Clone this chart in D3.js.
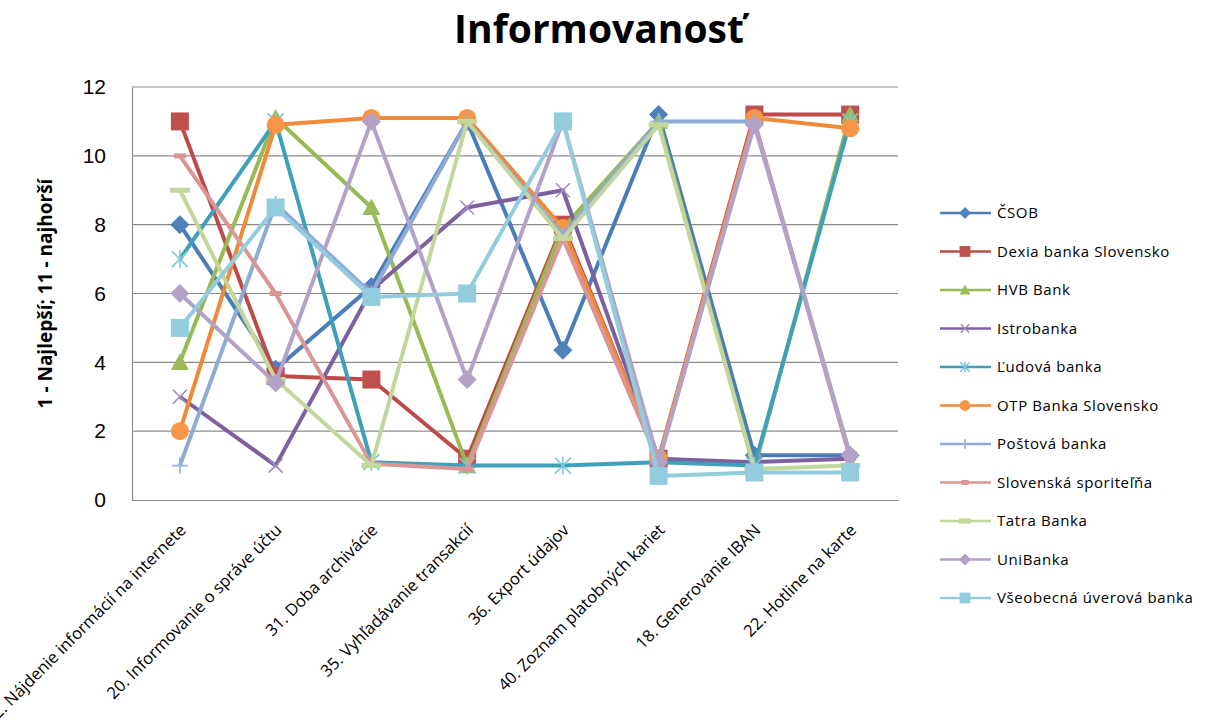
<!DOCTYPE html>
<html><head><meta charset="utf-8">
<script src="https://cdn.jsdelivr.net/npm/d3@7"></script>
<style>body{margin:0;background:#fff}svg{display:block}</style>
</head><body><div id="c"></div>
<script>
const categories = ["2. Nájdenie informácií na internete","20. Informovanie o správe účtu","31. Doba archivácie","35. Vyhľadávanie transakcií","36. Export údajov","40. Zoznam platobných kariet","18. Generovanie IBAN","22. Hotline na karte"];
const seriesNames = ["ČSOB","Dexia banka Slovensko","HVB Bank","Istrobanka","Ľudová banka","OTP Banka Slovensko","Poštová banka","Slovenská sporiteľňa","Tatra Banka","UniBanka","Všeobecná úverová banka"];
const csob      = [8, 3.8, 6.2, 11, 4.35, 11.2, 1.3, 1.3];
const dexia     = [11, 3.6, 3.5, 1.2, 8, 1.2, 11.2, 11.2];
const hvb       = [4, 11.1, 8.5, 1.0, 7.9, 11, 0.9, 11.2];
const istro     = [3, 1.0, 6.1, 8.5, 9, 1.2, 1.1, 1.2];
const ludova    = [7, 11, 1.1, 1.0, 1.0, 1.1, 1.0, 11];
const otp       = [2, 10.9, 11.1, 11.1, 7.9, 1.2, 11.1, 10.8];
const postova   = [1, 8.6, 6.0, 11, 7.7, 11, 11, 1.3];
const slsp      = [10, 6, 1.05, 0.9, 7.6, 1.1, 11, 1.2];
const tatra     = [9, 3.5, 1.0, 11, 7.6, 10.9, 0.9, 1.0];
const uni       = [6, 3.4, 11, 3.5, 11, 1.1, 10.9, 1.3];
const vub       = [5, 8.5, 5.9, 6.0, 11, 0.7, 0.8, 0.8];
const yTicks = [0, 2, 4, 6, 8, 10, 12];
const seriesValues = [csob, dexia, hvb, istro, ludova, otp, postova, slsp, tatra, uni, vub];
const colors = ["#4A7EBB","#BE4B48","#98B954","#7D60A0","#3FA0BA","#F08A3A","#8EAAD6","#D99694","#C3D69B","#B3A2C7","#93CDDD"];
const markerColors = ["#4F81BD","#C0504D","#9BBB59","#A08FC4","#7FC8DA","#F79646","#95B3D7","#D99694","#C3D69B","#B3A2C7","#93CDDD"];
const markers = ["diamond","square","triangle","x","star","circle","plus","dash","longdash","diamond","square"];

const W = 1212, H = 725;
const svg = d3.select("#c").append("svg").attr("width", W).attr("height", H)
  .style("font-family", "'Open Sans', 'Liberation Sans', sans-serif");
const pL = 132, pR = 898, pT = 87, pB = 500;
const x = d3.scaleBand().domain(categories).range([pL, pR]);
const y = d3.scaleLinear().domain([0, 12]).range([pB, pT]);

// title
svg.append("text").attr("x", 599).attr("y", 43).attr("text-anchor", "middle")
  .attr("font-size", 39).attr("font-weight", "bold").attr("fill", "#000").text("Informovanosť");

// grid
svg.append("g").selectAll("line").data(yTicks.filter(d => d > 0)).join("line")
  .attr("x1", pL).attr("x2", pR).attr("y1", d => y(d)).attr("y2", d => y(d))
  .attr("stroke", "#8c8c8c").attr("stroke-width", 1.2);
// axes
const yAxis = svg.append("g").attr("transform", `translate(${pL},0)`)
  .call(d3.axisLeft(y).tickValues(yTicks).tickSize(0).tickPadding(26));
yAxis.select(".domain").attr("stroke", "#8c8c8c").attr("stroke-width", 1.2);
yAxis.selectAll("text").attr("font-size", 21).attr("fill", "#000");
const xAxis = svg.append("g").attr("transform", `translate(0,${pB})`)
  .call(d3.axisBottom(x).tickSize(0).tickFormat(""));
xAxis.select(".domain").attr("stroke", "#8c8c8c").attr("stroke-width", 1.2);
svg.append("g").selectAll("text").data(categories).join("text")
  .attr("transform", d => `translate(${x(d) + x.bandwidth()/2 + 3},${pB + 27}) rotate(-45)`)
  .attr("text-anchor", "end").attr("dy", "0.35em").attr("font-size", 16.5).attr("fill", "#000")
  .text(d => d);

// y label
svg.append("text").attr("transform", `translate(52,${(pT+pB)/2}) rotate(-90)`)
  .attr("text-anchor", "middle").attr("font-size", 19).attr("font-weight", "bold").text("1 - Najlepší; 11 - najhorší");

function drawMarker(g, type, cx, cy, i, scale) {
  const s = scale || 1;
  const c = markerColors[i];
  if (type === "diamond") {
    const r = 9*s;
    g.append("path").attr("d", `M${cx},${cy-r}L${cx+r},${cy}L${cx},${cy+r}L${cx-r},${cy}Z`).attr("fill", c).attr("stroke", colors[i]).attr("stroke-width", 1);
  } else if (type === "square") {
    const r = 9*s;
    g.append("rect").attr("x", cx-r).attr("y", cy-r).attr("width", 2*r).attr("height", 2*r).attr("fill", c);
  } else if (type === "triangle") {
    const r = 9*s;
    g.append("path").attr("d", `M${cx},${cy-r}L${cx+r},${cy+r*0.85}L${cx-r},${cy+r*0.85}Z`).attr("fill", c);
  } else if (type === "circle") {
    g.append("circle").attr("cx", cx).attr("cy", cy).attr("r", 9*s).attr("fill", c);
  } else if (type === "x") {
    const r = 7*s;
    g.append("path").attr("d", `M${cx-r},${cy-r}L${cx+r},${cy+r}M${cx-r},${cy+r}L${cx+r},${cy-r}`).attr("stroke", c).attr("stroke-width", 1.6).attr("fill", "none");
  } else if (type === "star") {
    const r = 8*s;
    g.append("path").attr("d", `M${cx-r},${cy-r}L${cx+r},${cy+r}M${cx-r},${cy+r}L${cx+r},${cy-r}M${cx},${cy-r*1.1}L${cx},${cy+r*1.1}`).attr("stroke", c).attr("stroke-width", 1.6).attr("fill", "none");
  } else if (type === "plus") {
    const r = 8*s;
    g.append("path").attr("d", `M${cx-r},${cy}L${cx+r},${cy}M${cx},${cy-r}L${cx},${cy+r}`).attr("stroke", c).attr("stroke-width", 1.6).attr("fill", "none");
  } else if (type === "dash") {
    g.append("rect").attr("x", cx-6*s).attr("y", cy-2.5).attr("width", 12*s).attr("height", 5).attr("fill", c);
  } else if (type === "longdash") {
    g.append("rect").attr("x", cx-10*s).attr("y", cy-2.5).attr("width", 20*s).attr("height", 5).attr("fill", c);
  }
}

const line = d3.line().x((d, j) => x(categories[j]) + x.bandwidth()/2).y(d => y(d));
seriesValues.forEach((vals, i) => {
  const g = svg.append("g");
  g.append("path").datum(vals).attr("d", line).attr("fill", "none")
    .attr("stroke", colors[i]).attr("stroke-width", 4).attr("stroke-linejoin", "round");
  vals.forEach((v, j) => drawMarker(g, markers[i], x(categories[j]) + x.bandwidth()/2, y(v), i));
});

// legend
const lg = svg.append("g");
seriesNames.forEach((n, i) => {
  const ly = 213 + i * 38.5;
  lg.append("line").attr("x1", 940).attr("x2", 991).attr("y1", ly).attr("y2", ly)
    .attr("stroke", colors[i]).attr("stroke-width", 2.5);
  drawMarker(lg, markers[i], 965, ly, i, 0.6);
  lg.append("text").attr("x", 997).attr("y", ly).attr("dy", "0.35em")
    .attr("font-size", 15).attr("letter-spacing", 0.6).attr("fill", "#000").text(n);
});
</script></body></html>
